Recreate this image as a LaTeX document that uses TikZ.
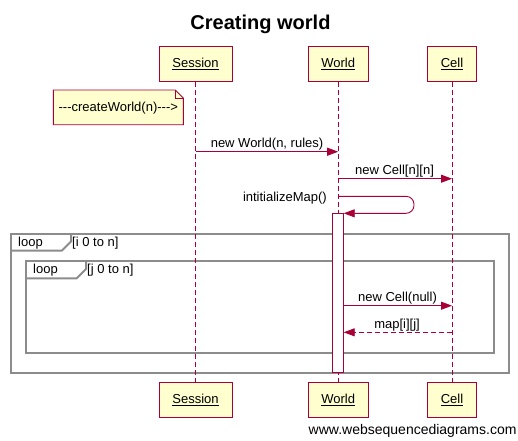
\documentclass[tikz,border=0pt]{standalone}
\usepackage{fontspec}
\setmainfont{Liberation Sans}
\usetikzlibrary{arrows.meta}
\definecolor{crim}{HTML}{A80036}
\definecolor{boxfill}{HTML}{FEFECE}
\definecolor{loopgray}{HTML}{8C8C8C}
\tikzset{
  actor/.style={draw=crim, fill=boxfill, line width=1pt, minimum height=35pt, inner sep=0pt, font=\fontsize{13}{15}\selectfont},
  lifeline/.style={draw=crim, line width=0.9pt, dash pattern=on 5pt off 3pt},
  msg/.style={draw=crim, line width=0.9pt, -{Triangle[length=11pt,width=8pt]}},
  retmsg/.style={msg, dash pattern=on 5pt off 3pt},
  lbl/.style={inner sep=0pt, font=\fontsize{13}{15}\selectfont},
  frame/.style={draw=loopgray, line width=2pt},
  actbar/.style={draw=crim, fill=white, line width=0.9pt},
}
\begin{document}
\begin{tikzpicture}[x=1pt,y=-1pt]
\useasboundingbox (0,0) rectangle (518,440);
% title
\node[font=\fontsize{20}{24}\selectfont\bfseries] (title) at (260.5,24) {Creating world};
% actors
\node[actor, minimum width=73pt] (s1) at (195.5,63.8) {\underline{Session}};
\node[actor, minimum width=60pt] (w1) at (338.2,63.8) {\underline{World}};
\node[actor, minimum width=49.4pt] (c1) at (452,63.8) {\underline{Cell}};
\node[actor, minimum width=73pt] (s2) at (195.5,399.8) {\underline{Session}};
\node[actor, minimum width=60pt] (w2) at (338.2,399.8) {\underline{World}};
\node[actor, minimum width=49.4pt] (c2) at (452,399.8) {\underline{Cell}};
% loop frames
\draw[frame] (11,234) rectangle (509,372.7);
\draw[frame] (11,250.7) -- (61.7,250.7) -- (71,241.5) -- (71,234);
\node[lbl, anchor=west] (l1) at (18,243) {loop};
\node[lbl, anchor=west] (l1c) at (72,243) {[i 0 to n]};
\draw[frame] (26,261.3) rectangle (494,352.7);
\draw[frame] (26,278.3) -- (76.7,278.3) -- (86,269) -- (86,261.3);
\node[lbl, anchor=west] (l2) at (33,270) {loop};
\node[lbl, anchor=west] (l2c) at (87,270) {[j 0 to n]};
% lifelines
\draw[lifeline] (s1.south) -- (s2.north);
\draw[lifeline] (w1.south) -- (w2.north);
\draw[lifeline] (c1.south) -- (c2.north);
% note
\draw[draw=crim, fill=boxfill, line width=0.9pt] (53.3,90) -- (175.3,90) -- (183.3,98) -- (183.3,124.7) -- (53.3,124.7) -- cycle;
\draw[draw=crim, line width=0.9pt] (175.3,90) -- (175.3,98) -- (183.3,98);
\node[lbl] (note) at (118.3,108) {-{}-{}-createWorld(n)-{}-{}->};
% activation bar
\draw[actbar] (332.3,213.3) rectangle (343.7,372.7);
% coordinates
\coordinate (sA) at (195.5,151.7);
\coordinate (wA) at (338.2,151.7);
\coordinate (wB) at (338.2,178.7);
\coordinate (cB) at (452,178.7);
\coordinate (wC) at (338.2,196.3);
\coordinate (wCr) at (414,213.3);
\coordinate (aC) at (343.7,213.3);
\coordinate (aD) at (343.7,305.7);
\coordinate (cD) at (452,305.7);
\coordinate (cE) at (452,332.3);
\coordinate (aE) at (343.7,332.3);
% messages
\draw[msg] (sA) -- (wA);
\node[lbl] (m1) at (267,144) {new World(n, rules)};
\draw[msg] (wB) -- (cB);
\node[lbl] (m2) at (394.5,171) {new Cell[n][n]};
\draw[msg, rounded corners=8pt] (wC) -| (wCr) -- (aC);
\node[lbl, anchor=east] (m3) at (327,198.5) {intitializeMap()};
\draw[msg] (aD) -- (cD);
\node[lbl] (m4) at (397.5,298) {new Cell(null)};
\draw[retmsg] (cE) -- (aE);
\node[lbl] (m5) at (397,325) {map[i][j]};
% watermark
\node[font=\fontsize{14}{16}\selectfont, anchor=east, inner sep=0pt] (wm) at (516.7,430.7) {www.websequencediagrams.com};
\end{tikzpicture}
\end{document}
